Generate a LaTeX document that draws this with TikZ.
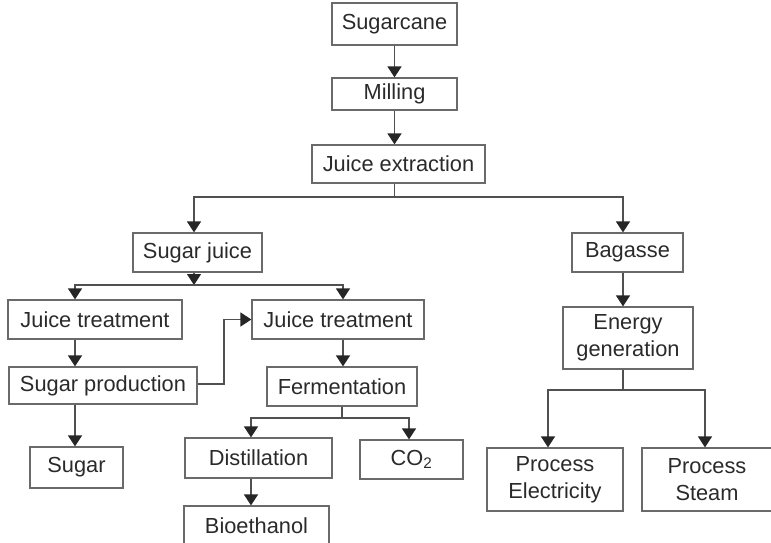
\documentclass[tikz,border=0pt]{standalone}
\usepackage{fontspec}
\setmainfont{Liberation Sans}
\usetikzlibrary{arrows.meta}
\definecolor{linec}{HTML}{505050}
\definecolor{boxc}{HTML}{6A6A6A}
\definecolor{textc}{HTML}{2A2A2A}
\begin{document}
\begin{tikzpicture}[x=1pt,y=-1pt,
  box/.style={draw=boxc,line width=1.2pt,inner sep=0pt,align=center,text=textc,
    font=\fontsize{21.8}{27}\selectfont},
  conn/.style={draw=linec,line width=1.2pt},
  arr/.style={conn,-{Triangle[width=14pt,length=11pt,color=black!85]}}]
\useasboundingbox (0,0) rectangle (771,542);
\clip (0,0) rectangle (771,542);
\node[box,minimum width=125pt,minimum height=42pt] (sugarcane) at (394.5,24) {Sugarcane};
\node[box,minimum width=125pt,minimum height=32pt] (milling) at (394.5,94) {Milling};
\node[box,minimum width=173pt,minimum height=38pt] (juiceext) at (398.5,164) {Juice extraction};
\node[box,minimum width=129pt,minimum height=39pt] (sugarjuice) at (197.5,252.5) {Sugar juice};
\node[box,minimum width=111pt,minimum height=39pt] (bagasse) at (627.5,252.5) {Bagasse};
\node[box,minimum width=174pt,minimum height=39pt] (jt1) at (95,319.5) {Juice treatment};
\node[box,minimum width=172pt,minimum height=39pt] (jt2) at (338,319.5) {Juice treatment};
\node[box,minimum width=188pt,minimum height=37pt] (sugarprod) at (103,385.5) {Sugar production};
\node[box,minimum width=150pt,minimum height=39pt] (ferm) at (342,386.5) {Fermentation};
\node[box,minimum width=130pt,minimum height=62pt] (energy) at (628,338) {Energy\\generation};
\node[box,minimum width=93pt,minimum height=41pt] (sugar) at (76.5,467.5) {Sugar};
\node[box,minimum width=147pt,minimum height=40pt] (distill) at (258.5,458) {Distillation};
\node[box,minimum width=103pt,minimum height=39pt] (co2) at (411.5,459.5) {CO\textsubscript{2}};
\node[box,minimum width=136pt,minimum height=63pt] (procelec) at (555,479.5) {Process\\Electricity};
\node[box,minimum width=130pt,minimum height=63pt] (procsteam) at (707,479.5) {Process\\Steam};
\node[box,minimum width=145pt,minimum height=40pt] (bioeth) at (256.5,526) {Bioethanol};
% connectors
\coordinate (jx) at (394.5,197);
\coordinate (sjx) at (194,285);
\coordinate (spx) at (224,384);
\coordinate (fx) at (342,418);
\coordinate (ex) at (623,390);
\draw[arr] (sugarcane.south) -- (milling.north);
\draw[arr] (milling.south) -- (milling.south |- juiceext.north);
\draw[conn] (juiceext.south -| milling.south) -- (jx);
\draw[arr] (jx) -| ([xshift=-3.5pt]sugarjuice.north);
\draw[arr] (jx) -| ([xshift=-4.5pt]bagasse.north);
\draw[arr] (sjx |- sugarjuice.south) -- (sjx);
\draw[arr] (sjx) -| ([xshift=-20pt]jt1.north);
\draw[arr] (sjx) -| ([xshift=5pt]jt2.north);
\draw[arr] ([xshift=-20pt]jt1.south) -- ([xshift=-20pt]jt1.south |- sugarprod.north);
\draw[arr] ([xshift=-20pt]jt1.south |- sugarprod.south) -- ([xshift=-20pt]jt1.south |- sugar.north);
\draw[arr] (sugarprod.east |- spx) -- (spx) |- (jt2.west);
\draw[arr] ([xshift=5pt]jt2.south) -- ([xshift=5pt]jt2.south |- ferm.north);
\draw[conn] (ferm.south) -- (fx);
\draw[arr] (fx) -| ([xshift=-7.5pt]distill.north);
\draw[arr] (fx) -| ([xshift=-2.5pt]co2.north);
\draw[arr] ([xshift=-7.5pt]distill.south) -- ([xshift=-7.5pt]distill.south |- bioeth.north);
\draw[arr] ([xshift=-4.5pt]bagasse.south) -- ([xshift=-4.5pt]bagasse.south |- energy.north);
\draw[conn] (ex |- energy.south) -- (ex);
\draw[arr] (ex) -| ([xshift=-7pt]procelec.north);
\draw[arr] (ex) -| ([xshift=-2pt]procsteam.north);
\end{tikzpicture}
\end{document}
